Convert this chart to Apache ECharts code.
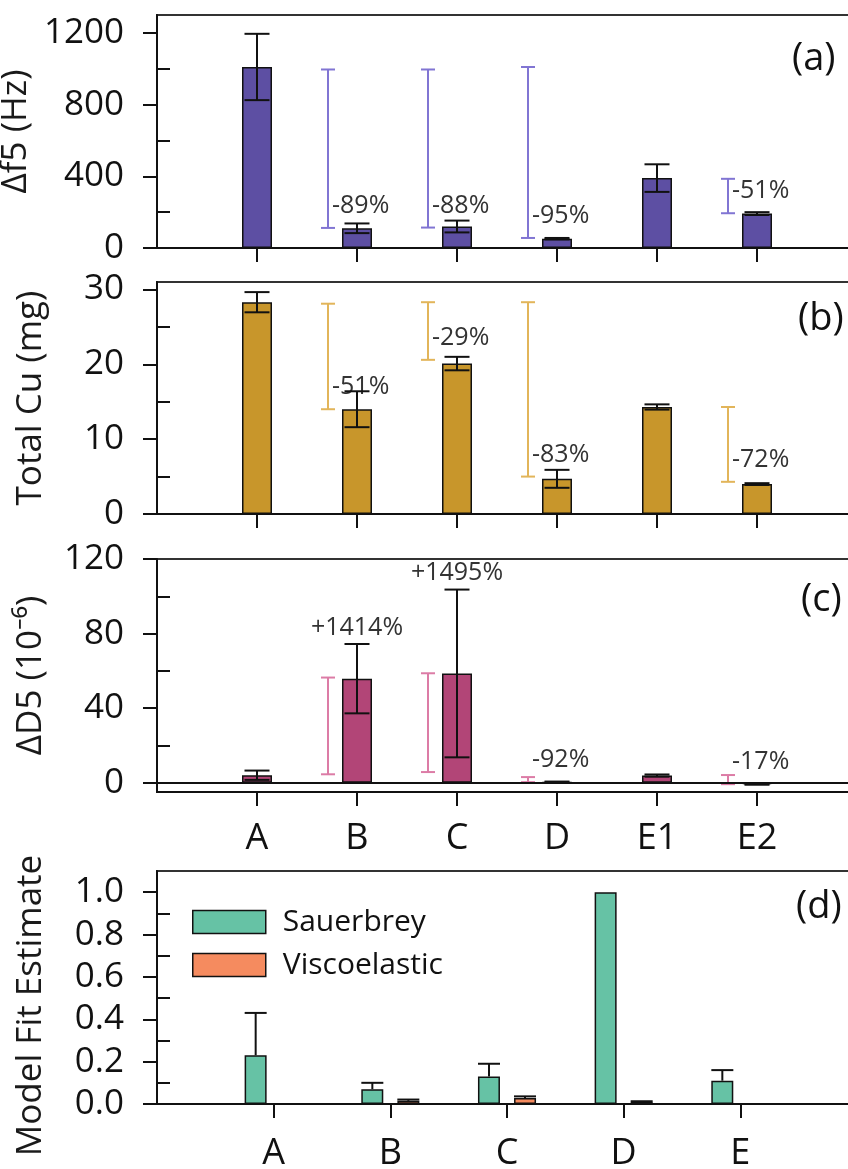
<!DOCTYPE html>
<html>
<head>
<meta charset="utf-8">
<script src="https://cdn.jsdelivr.net/npm/echarts@6/dist/echarts.min.js"></script>
<style>
  html, body { margin: 0; padding: 0; background: #ffffff; }
  #chart { width: 848px; height: 1169px; }
</style>
</head>
<body>
<div id="chart"></div>
<script>
// ---- categories ----
const groups = ['A', 'B', 'C', 'D', 'E1', 'E2'];
const fitGroups = ['A', 'B', 'C', 'D', 'E'];

// ---- (a) frequency shift, Δf5 (Hz) ----
const f5Mean = [1010, 110, 120, 52, 390, 192];
const f5Err = [185, 27, 33, 4, 77, 8];
const f5ChangeGroup = [1, 2, 3, 5];
const f5ChangeLow = [112, 114, 56, 194];
const f5ChangeHigh = [996, 996, 1010, 386];
const f5ChangeText = ['-89%', '-88%', '-95%', '-51%'];
const f5Ticks = [0, 400, 800, 1200];
const f5Minor = [200, 600, 1000];

// ---- (b) total copper (mg) ----
const cuMean = [28.3, 14.0, 20.1, 4.7, 14.3, 4.0];
const cuErr = [1.35, 2.4, 0.9, 1.2, 0.35, 0.12];
const cuChangeGroup = [1, 2, 3, 5];
const cuChangeLow = [14.0, 20.6, 5.0, 4.3];
const cuChangeHigh = [28.1, 28.3, 28.3, 14.3];
const cuChangeText = ['-51%', '-29%', '-83%', '-72%'];
const cuTicks = [0, 10, 20, 30];
const cuMinor = [5, 15, 25];

// ---- (c) dissipation shift, ΔD5 (10^-6) ----
const d5Mean = [4.0, 55.8, 58.6, 0.3, 3.8, -0.8];
const d5Err = [2.5, 18.6, 45, 0.3, 0.6, 0.3];
const d5ChangeGroup = [1, 2, 3, 5];
const d5ChangeLow = [4.5, 5.7, 0.3, -0.8];
const d5ChangeHigh = [56.4, 58.7, 3.0, 4.1];
const d5ChangeText = ['+1414%', '+1495%', '-92%', '-17%'];
const d5Ticks = [0, 40, 80, 120];
const d5Minor = [20, 60, 100];

// ---- (d) model fit estimates ----
const sauerbrey = [0.23, 0.07, 0.13, 1.0, 0.11];
const sauerbreyErr = [0.20, 0.03, 0.06, 0, 0.05];
const viscoelastic = [null, 0.015, 0.028, 0.010, null];
const viscoelasticErr = [0, 0.006, 0.008, 0.003, 0];
const fitTicks = [0, 0.2, 0.4, 0.6, 0.8, 1.0];
const fitMinor = [0.1, 0.3, 0.5, 0.7, 0.9];

// ---- styling ----
const FONT = '"Open Sans", "Noto Sans", "DejaVu Sans", sans-serif';
const INK = '#111111';
const panels = [
  { top: 15,  height: 233, min: 0,  max: 1300, name: 'Δf5 (Hz)',       ticks: f5Ticks, minor: f5Minor, bar: '#5d4fa3', range: '#8175d3', fmt: v => String(v), namePad: [0, 0, 0, 0], labelMargin: 29 },
  { top: 282, height: 232, min: 0,  max: 31,   name: 'Total Cu (mg)',  ticks: cuTicks, minor: cuMinor, bar: '#c8962b', range: '#e2b55a', fmt: v => String(v), namePad: [0, 0, 0, 0], labelMargin: 29 },
  { top: 559, height: 233, min: -5, max: 120,  name: 'ΔD5 (10⁻⁶)',     ticks: d5Ticks, minor: d5Minor, bar: '#b24577', range: '#dc7ca6', fmt: v => String(v), namePad: [0, 0, 0, 0], labelMargin: 29 },
  { top: 871, height: 233, min: 0,  max: 1.1,  name: 'Model Fit Estimate', ticks: fitTicks, minor: fitMinor, fmt: v => v.toFixed(1), namePad: [0, 36, 0, 0], labelMargin: 32 }
];
const GREEN = '#66c2a5';
const ORANGE = '#f58b5f';

const chart = echarts.init(document.getElementById('chart'), null, { renderer: 'canvas' });

// plot boxes run past the right edge of the page, so only three sides show
const grid = panels.map(p => ({
  left: 157, width: 700, top: p.top, height: p.height,
  outerBoundsMode: 'none', containLabel: false,
  show: true, borderColor: '#333333', borderWidth: 2, backgroundColor: 'transparent'
}));

const xAxis = panels.map((p, i) => {
  const isFit = i === 3;
  const names = isFit ? fitGroups : groups;
  const pos = names.map((_, k) => k + 1);
  return {
    type: 'value', gridIndex: i, min: 0, max: isFit ? 6 : 7,
    axisLine: { show: true, onZero: false, lineStyle: { color: INK, width: 2 } },
    axisTick: { show: true, length: 14, customValues: pos, lineStyle: { color: INK, width: 2 } },
    axisLabel: {
      show: i >= 2, customValues: pos, margin: p.labelMargin,
      formatter: v => names[Math.round(v) - 1] || '',
      fontSize: 36, fontFamily: FONT, color: INK
    },
    splitLine: { show: false }
  };
});

const yAxis = [];
panels.forEach((p, i) => {
  yAxis.push({
    type: 'value', gridIndex: i, min: p.min, max: p.max, position: 'left',
    axisLine: { show: true, onZero: false, lineStyle: { color: INK, width: 2 } },
    axisTick: { show: true, length: 14, customValues: p.ticks, lineStyle: { color: INK, width: 2 } },
    axisLabel: { customValues: p.ticks, formatter: p.fmt, margin: 33, fontSize: 35, fontFamily: FONT, color: INK },
    splitLine: { show: false },
    name: p.name, nameLocation: 'middle', nameGap: 108,
    nameTextStyle: { fontSize: 35, fontFamily: FONT, color: '#1a1a1a', padding: p.namePad }
  });
  yAxis.push({
    type: 'value', gridIndex: i, min: p.min, max: p.max, position: 'left',
    axisLine: { show: false },
    axisTick: { show: true, inside: true, length: 13, customValues: p.minor, lineStyle: { color: INK, width: 2 } },
    axisLabel: { show: false },
    splitLine: { show: false }
  });
});

// symmetric (or upward-only) error bars drawn at a pixel offset from the category
function errorSeries(panel, means, errs, offset, capW, upOnly) {
  return {
    type: 'custom', xAxisIndex: panel, yAxisIndex: panel * 2, z: 5, silent: true,
    data: means.map((v, k) => [k + 1, v == null ? NaN : v, errs[k]]),
    renderItem: (params, api) => {
      const x = api.value(0), v = api.value(1), e = api.value(2);
      if (isNaN(v) || !e) return null;
      const hi = api.coord([x, v + e]);
      const lo = api.coord([x, upOnly ? v : v - e]);
      const cx = hi[0] + offset;
      const st = { stroke: INK, lineWidth: 2 };
      const kids = [
        { type: 'line', shape: { x1: cx, y1: hi[1], x2: cx, y2: lo[1] }, style: st },
        { type: 'line', shape: { x1: cx - capW / 2, y1: hi[1], x2: cx + capW / 2, y2: hi[1] }, style: st }
      ];
      if (!upOnly) kids.push({ type: 'line', shape: { x1: cx - capW / 2, y1: lo[1], x2: cx + capW / 2, y2: lo[1] }, style: st });
      return { type: 'group', children: kids };
    }
  };
}

// coloured change brackets with their percentage labels
function changeSeries(panel, idx, lows, highs, texts, means, errs, color) {
  return {
    type: 'custom', xAxisIndex: panel, yAxisIndex: panel * 2, z: 4, silent: true,
    data: idx.map((g, k) => [g + 1, lows[k], highs[k]]),
    renderItem: (params, api) => {
      const k = params.dataIndex;
      const x = api.value(0);
      const pLo = api.coord([x, api.value(1)]);
      const pHi = api.coord([x, api.value(2)]);
      const rx = pLo[0] - 29;
      const st = { stroke: color, lineWidth: 2 };
      const kids = [
        { type: 'line', shape: { x1: rx, y1: pLo[1], x2: rx, y2: pHi[1] }, style: st },
        { type: 'line', shape: { x1: rx - 7, y1: pLo[1], x2: rx + 7, y2: pLo[1] }, style: st },
        { type: 'line', shape: { x1: rx - 7, y1: pHi[1], x2: rx + 7, y2: pHi[1] }, style: st }
      ];
      const txt = texts[k];
      const g = idx[k];
      let label;
      if (txt.charAt(0) === '+') {
        const top = api.coord([x, means[g] + errs[g]]);
        label = { type: 'text', x: top[0], y: top[1] - 4,
          style: { text: txt, fill: '#333333', fontSize: 25, fontFamily: FONT, align: 'center', verticalAlign: 'bottom' } };
      } else {
        label = { type: 'text', x: rx + 4, y: pLo[1] - 22,
          style: { text: txt, fill: '#333333', fontSize: 25, fontFamily: FONT, align: 'left', verticalAlign: 'middle' } };
      }
      kids.push(label);
      return { type: 'group', children: kids };
    }
  };
}

function barSeries(panel, means, color, extra) {
  return Object.assign({
    type: 'bar', xAxisIndex: panel, yAxisIndex: panel * 2, silent: true,
    data: means.map((v, k) => [k + 1, v]),
    barWidth: 30,
    itemStyle: { color: color, borderColor: INK, borderWidth: 1.5 }
  }, extra || {});
}

const series = [
  barSeries(0, f5Mean, panels[0].bar),
  errorSeries(0, f5Mean, f5Err, 0, 25, false),
  changeSeries(0, f5ChangeGroup, f5ChangeLow, f5ChangeHigh, f5ChangeText, f5Mean, f5Err, panels[0].range),

  barSeries(1, cuMean, panels[1].bar),
  errorSeries(1, cuMean, cuErr, 0, 25, false),
  changeSeries(1, cuChangeGroup, cuChangeLow, cuChangeHigh, cuChangeText, cuMean, cuErr, panels[1].range),

  barSeries(2, d5Mean, panels[2].bar, {
    markLine: {
      silent: true, symbol: 'none', label: { show: false },
      lineStyle: { color: INK, width: 2, type: 'solid' },
      data: [{ yAxis: 0 }]
    }
  }),
  errorSeries(2, d5Mean, d5Err, 0, 25, false),
  changeSeries(2, d5ChangeGroup, d5ChangeLow, d5ChangeHigh, d5ChangeText, d5Mean, d5Err, panels[2].range),

  {
    name: 'Sauerbrey', type: 'bar', xAxisIndex: 3, yAxisIndex: 6, silent: true,
    data: sauerbrey.map((v, k) => [k + 1, v]),
    barWidth: 22, barGap: '64%',
    itemStyle: { color: GREEN, borderColor: INK, borderWidth: 1.5 }
  },
  {
    name: 'Viscoelastic', type: 'bar', xAxisIndex: 3, yAxisIndex: 6, silent: true,
    data: viscoelastic.map((v, k) => [k + 1, v]),
    barWidth: 22, barGap: '64%',
    itemStyle: { color: ORANGE, borderColor: INK, borderWidth: 1.5 }
  },
  errorSeries(3, sauerbrey, sauerbreyErr, -18, 22, true),
  errorSeries(3, viscoelastic, viscoelasticErr, 18, 22, true)
];

const panelTags = [
  { text: '(a)', x: 792, y: 59 },
  { text: '(b)', x: 798, y: 319 },
  { text: '(c)', x: 801, y: 600 },
  { text: '(d)', x: 796, y: 907 }
];

chart.setOption({
  animation: false,
  backgroundColor: '#ffffff',
  textStyle: { fontFamily: FONT },
  grid: grid,
  xAxis: xAxis,
  yAxis: yAxis,
  legend: {
    data: ['Sauerbrey', 'Viscoelastic'],
    orient: 'vertical', left: 187, top: 902,
    itemWidth: 73, itemHeight: 23, itemGap: 13,
    icon: 'rect', selectedMode: false,
    itemStyle: { borderColor: INK, borderWidth: 1.5 },
    textStyle: { fontSize: 30, fontFamily: FONT, color: INK, padding: [0, 0, 0, 12] }
  },
  graphic: panelTags.map(t => ({
    type: 'text', x: t.x, y: t.y, silent: true,
    style: { text: t.text, fontSize: 38, fontFamily: FONT, fill: INK, verticalAlign: 'middle', align: 'left' }
  })),
  series: series
});
</script>
</body>
</html>
